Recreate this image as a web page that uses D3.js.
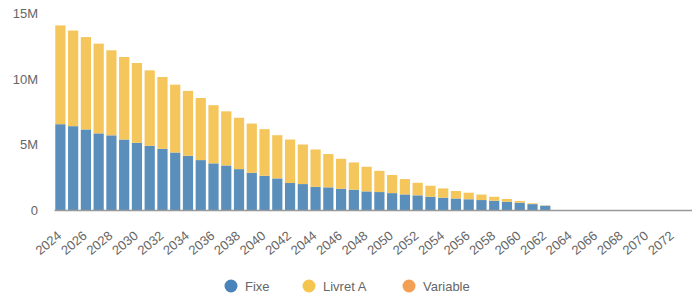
<!DOCTYPE html>
<html>
<head>
<meta charset="utf-8">
<script src="https://cdn.jsdelivr.net/npm/d3@7"></script>
<style>
    html, body { margin: 0; padding: 0; background: #fff; }
    svg { display: block; font-family: "Liberation Sans", Arial, sans-serif; }
</style>
</head>
<body>
<svg id="chart" width="692" height="302"></svg>
<script>
// years 2024 .. 2073
const years = d3.range(2024, 2074).map(String);
// amounts in millions
const fixe = [6.55, 6.40, 6.15, 5.85, 5.70, 5.38, 5.13, 4.90, 4.67, 4.39,
    4.14, 3.81, 3.56, 3.40, 3.12, 2.84, 2.61, 2.41, 2.06, 1.98,
    1.77, 1.73, 1.62, 1.55, 1.42, 1.37, 1.29, 1.19, 1.12, 1.01,
    0.94, 0.88, 0.82, 0.76, 0.71, 0.63, 0.56, 0.45, 0.33, 0,
    0, 0, 0, 0, 0, 0, 0, 0, 0, 0];
const livretA = [7.54, 7.30, 7.05, 6.85, 6.49, 6.30, 6.09, 5.76, 5.48, 5.18,
    4.95, 4.74, 4.44, 4.13, 3.92, 3.76, 3.56, 3.30, 3.32, 3.02,
    2.85, 2.54, 2.29, 2.08, 1.88, 1.62, 1.38, 1.17, 0.96, 0.84,
    0.71, 0.57, 0.50, 0.42, 0.30, 0.21, 0.13, 0.06, 0.02, 0,
    0, 0, 0, 0, 0, 0, 0, 0, 0, 0];
const variable = years.map(() => 0);
const yTicks = [0, 5, 10, 15];
const seriesNames = ["Fixe", "Livret A", "Variable"];
const colors = ["#5b8fbb", "#f4c65c", "#f2a65a"];
const legendColors = ["#4a83b9", "#f5c64f", "#f3a055"];

const svg = d3.select("#chart");

const rows = years.map((y, i) => ({ year: y, Fixe: fixe[i], "Livret A": livretA[i], Variable: variable[i] }));
const stacked = d3.stack().keys(seriesNames)(rows);

const x = d3.scaleBand().domain(years).range([54, 692]).paddingInner(0.2).paddingOuter(0.1);
const y = d3.scaleLinear().domain([0, 15]).range([210, 13.5]);

// y axis labels
const yAxis = svg.append("g")
    .attr("transform", "translate(40,0)")
    .call(d3.axisLeft(y).tickValues(yTicks).tickSize(0).tickPadding(2)
        .tickFormat(d => d === 0 ? "0" : d + "M"));
yAxis.select(".domain").remove();
yAxis.selectAll("text").attr("fill", "#666").attr("font-size", 13)
    .attr("font-family", "Liberation Sans, Arial, sans-serif");

// bars
svg.append("g").selectAll("g")
    .data(stacked)
    .join("g")
    .attr("fill", (d, i) => colors[i])
    .selectAll("rect")
    .data(d => d)
    .join("rect")
    .attr("x", d => x(d.data.year))
    .attr("y", d => y(d[1]))
    .attr("width", x.bandwidth())
    .attr("height", d => Math.max(0, y(d[0]) - y(d[1])));

// x axis
const xAxis = svg.append("g")
    .attr("transform", `translate(0,${y(0)})`)
    .call(d3.axisBottom(x).tickValues(years.filter((d, i) => i % 2 === 0)).tickSize(0));
xAxis.select(".domain").attr("stroke", "#999").attr("stroke-width", 1.5);
xAxis.selectAll("text")
    .attr("fill", "#666").attr("font-size", 13)
    .attr("font-family", "Liberation Sans, Arial, sans-serif")
    .attr("text-anchor", "end")
    .attr("x", 0).attr("y", 0).attr("dy", 0)
    .attr("transform", "translate(2,27) rotate(-40)");

// legend
const legendX = [231, 309, 409];
const legend = svg.append("g").attr("transform", "translate(0,286)");
seriesNames.forEach((name, i) => {
    legend.append("circle").attr("cx", legendX[i]).attr("cy", 0).attr("r", 6.5).attr("fill", legendColors[i]);
    legend.append("text").attr("x", legendX[i] + 14).attr("y", 0).attr("dy", "0.35em")
        .attr("fill", "#666").attr("font-size", 13).text(name);
});
</script>
</body>
</html>
